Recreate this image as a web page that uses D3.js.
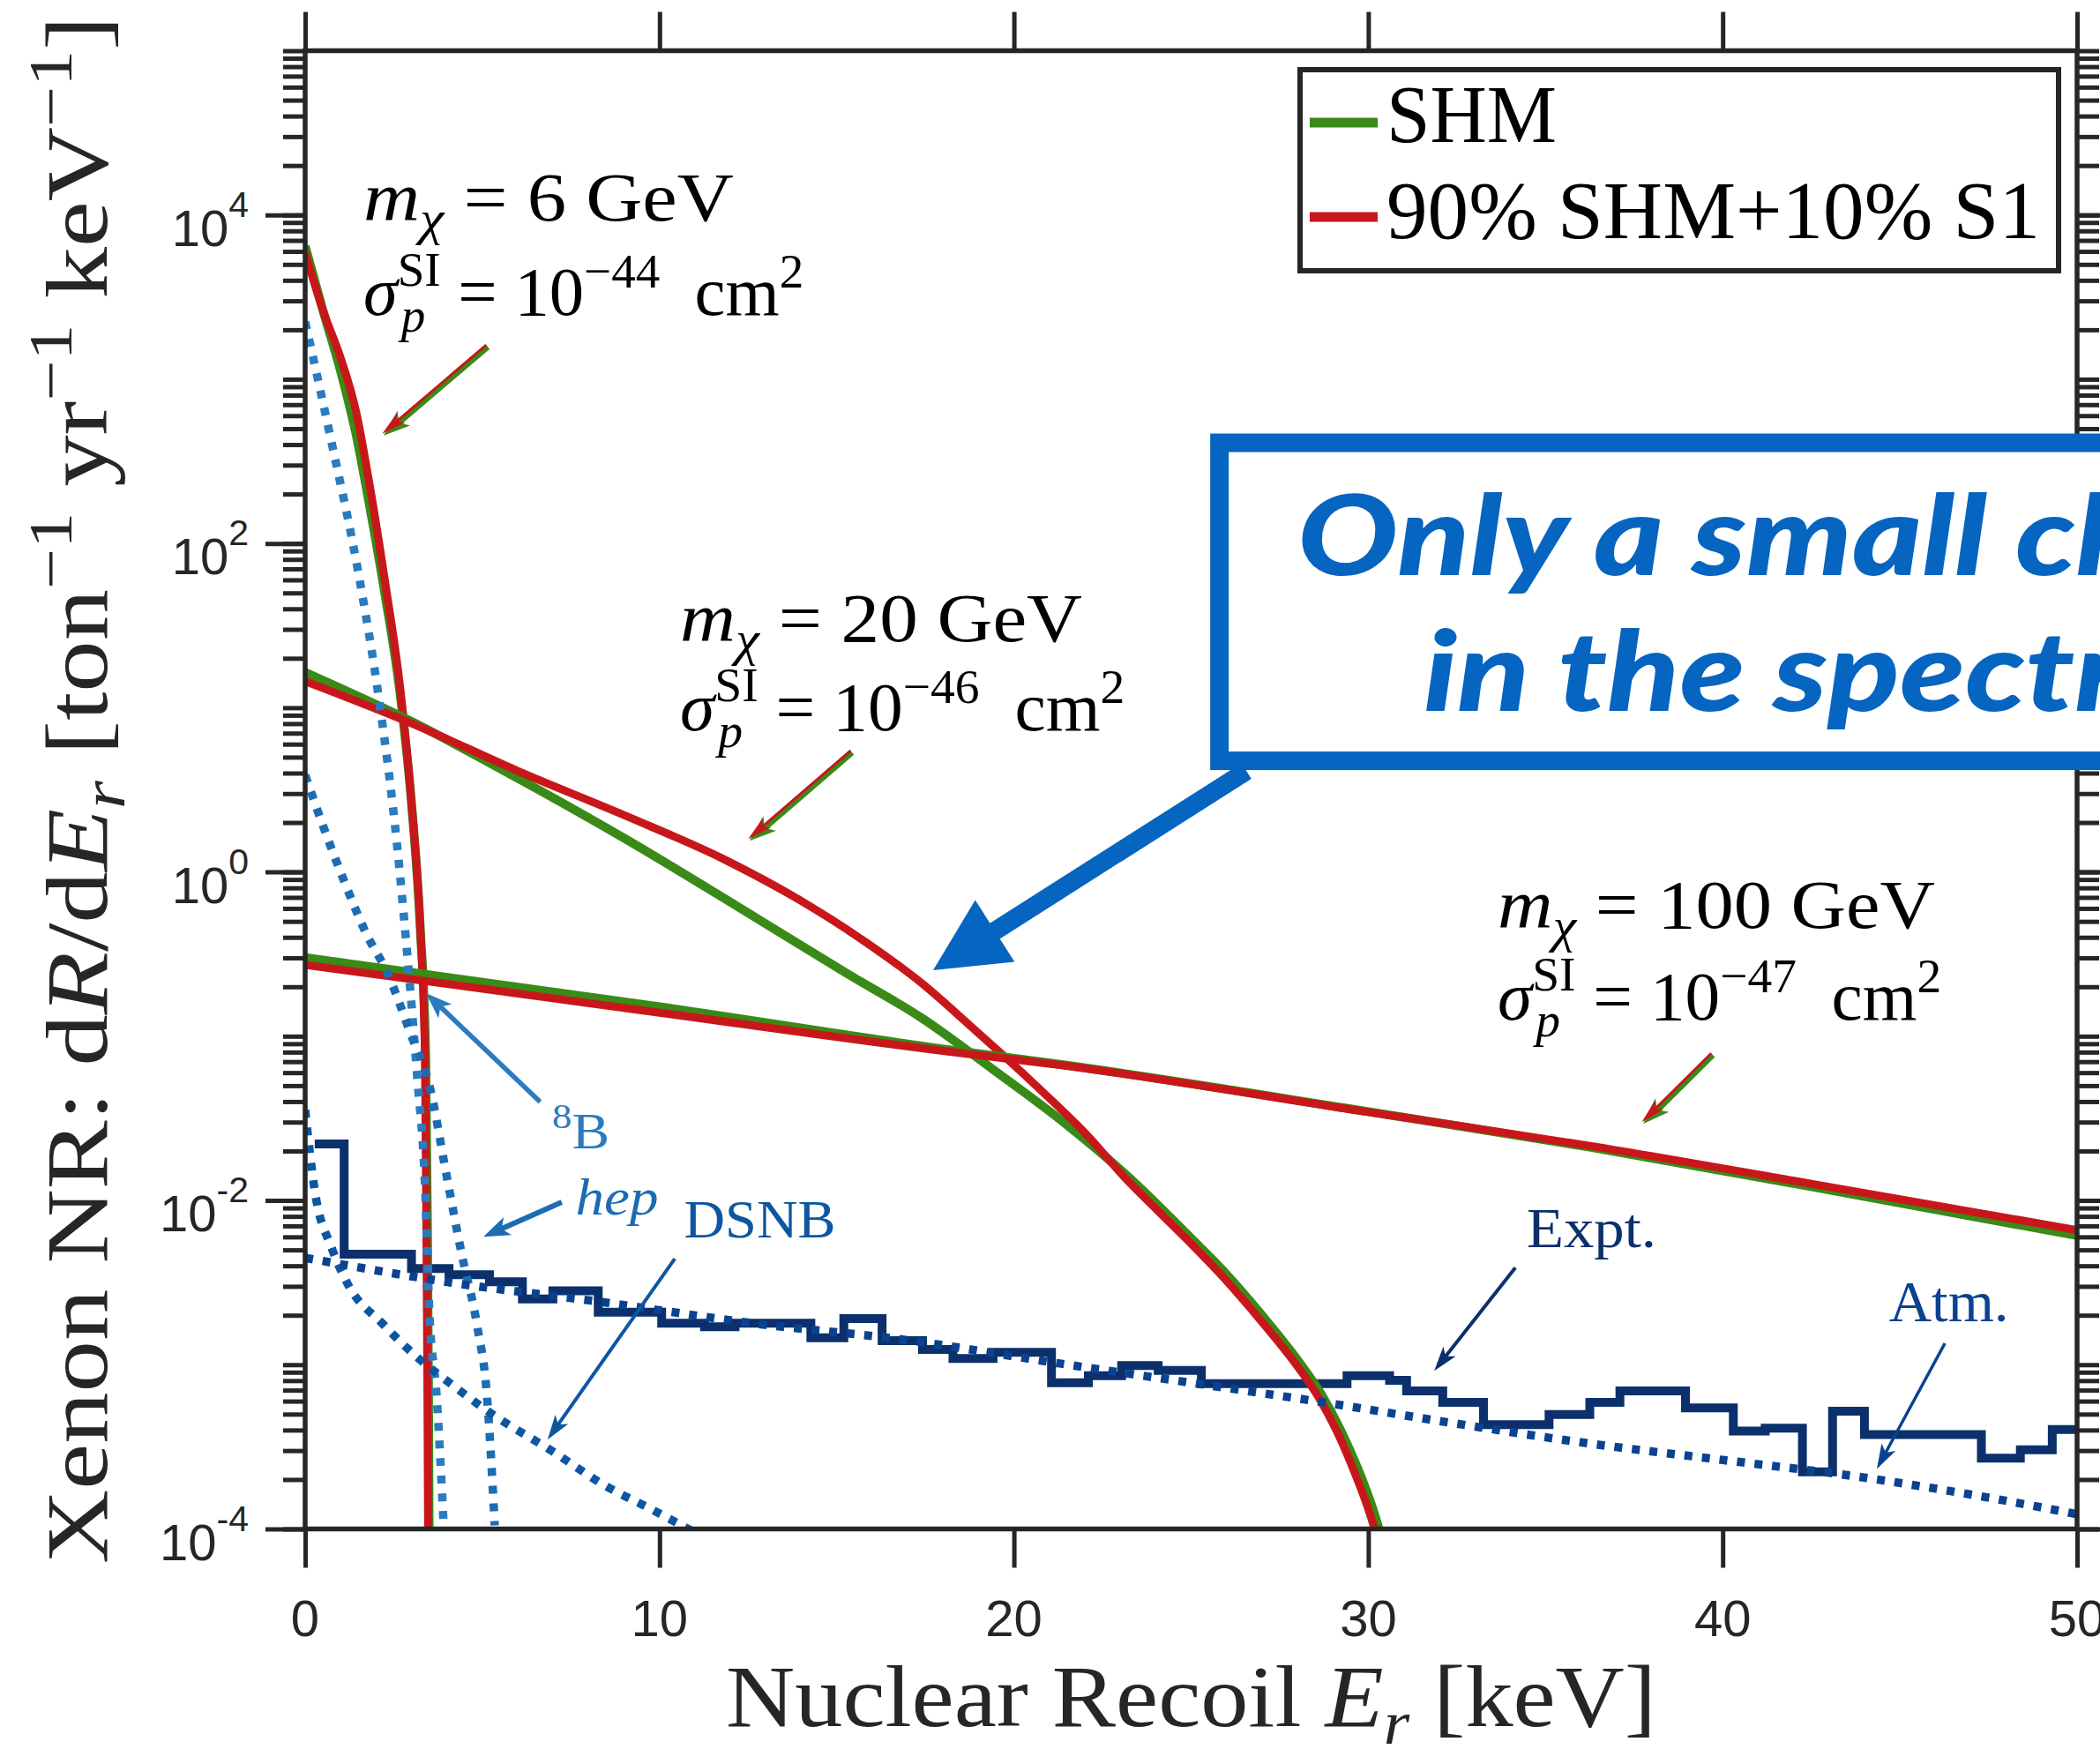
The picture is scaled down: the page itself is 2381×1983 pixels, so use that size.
<!DOCTYPE html>
<html>
<head>
<meta charset="utf-8">
<script src="https://cdn.jsdelivr.net/npm/d3@7"></script>
<style>
body { margin: 0; background: #fff; }
svg { display: block; }
text { white-space: pre; }
</style>
</head>
<body>
<svg id="chart"></svg>
<script>
var width = 2381, height = 1983;
var plot = {left: 346, right: 2355, top: 57.5, bottom: 1733.5};

// ---------- data ----------
var xTicks = [0, 10, 20, 30, 40, 50];
var yMajor = [1e-4, 1e-2, 1, 1e2, 1e4];

// m = 6 GeV, sigma = 1e-44
var shm6E = [0, 0.5, 1.0, 1.45, 1.8, 2.26, 2.67, 3.0, 3.25, 3.40, 3.45, 3.48, 3.50];
var shm6R = [6460, 2630, 1120, 447, 178, 47.9, 12.6, 2.63, 0.447, 0.0759, 0.00708, 0.000676, 0.0000794];
var mix6E = [0, 0.5, 1.0, 1.45, 1.8, 2.26, 2.67, 3.0, 3.25, 3.38, 3.42, 3.45, 3.47];
var mix6R = [5890, 2630, 1350, 617, 240, 57.5, 13.8, 2.63, 0.447, 0.0759, 0.00708, 0.000676, 0.0000794];

// m = 20 GeV, sigma = 1e-46
var shm20E = [0, 3, 6, 9.1, 12.2, 15.3, 17.4, 19.4, 21.5, 23.2, 25, 26, 27, 28, 28.7, 29.2, 29.7, 30.1, 30.4];
var shm20R = [16.4, 8.24, 3.72, 1.56, 0.617, 0.24, 0.129, 0.063, 0.0288, 0.0141, 0.00589, 0.00355, 0.002, 0.00107,
              0.000646, 0.000407, 0.000234, 0.000138, 0.0000851];
var mix20E = [0, 3, 6, 9.1, 11.8, 13.9, 15.7, 17.4, 18.8, 20.5, 22.1, 23.1, 24, 25, 26, 27, 28, 28.6, 29.1, 29.6, 30.0, 30.25];
var mix20R = [14.5, 8.04, 4.12, 2.17, 1.20, 0.685, 0.389, 0.210, 0.114, 0.053, 0.0245, 0.014, 0.00891, 0.00545, 0.00324,
              0.00182, 0.000977, 0.000631, 0.000398, 0.000224, 0.000132, 0.0000891];

// m = 100 GeV, sigma = 1e-47
var shm100E = [0, 10, 18.4, 21.25, 30, 36.25, 43, 50];
var shm100R = [0.301, 0.151, 0.0813, 0.0676, 0.0347, 0.0211, 0.0116, 0.00611];
var mix100E = [0, 10, 18.4, 21.25, 30, 36.25, 43, 50];
var mix100R = [0.272, 0.139, 0.0794, 0.067, 0.0345, 0.0215, 0.0121, 0.0066];

// neutrino backgrounds
var b8E = [0, 0.68, 1.51, 2.09, 2.59, 2.92, 3.17, 3.38, 3.5, 3.71, 3.92];
var b8R = [2240, 479, 64.6, 11.0, 1.48, 0.251, 0.0537, 0.0126, 0.00219, 0.000646, 0.0000933];
var hepE = [0, 0.47, 1.09, 1.71, 2.33, 2.95, 3.56, 3.95, 4.42, 4.85, 5.13, 5.35];
var hepR = [3.89, 2.0, 0.891, 0.427, 0.240, 0.107, 0.0447, 0.0158, 0.00468, 0.00174, 0.000646, 0.000105];
var dsnbE = [0, 0.27, 0.75, 1.23, 2.18, 3.14, 4.13, 5.2, 7.0, 8.42, 9.85, 11.0];
var dsnbR = [0.0355, 0.0115, 0.00513, 0.00302, 0.00178, 0.00112, 0.000759, 0.000513, 0.000295, 0.000186, 0.000129, 0.000095];
var atmE = [0, 4.13, 8.42, 12.7, 17, 21.25, 25, 28.75, 32.5, 36.25, 40, 43.75, 47, 50];
var atmR = [0.00447, 0.00316, 0.0024, 0.00178, 0.00141, 0.00102, 0.000776, 0.000589, 0.000437, 0.000331, 0.000263, 0.000209, 0.000162, 0.000123];

// experimental spectrum (bin edges, rate per bin)
var exptEdges = [0.27, 1.1, 3.0, 4.06, 5.2, 6.13, 6.99, 8.27, 10.06, 11.27, 12.13, 14.27, 15.2, 16.28, 17.42, 18.28, 19.41, 21.06, 22.1, 23.04,
                 24.07, 25.29, 29.4, 30.6, 31.08, 32.1, 33.25, 35.1, 36.25, 37.1, 38.95, 40.3, 41.2, 42.25, 43.1, 44.0, 47.3, 48.4, 49.3, 50];
var exptRate = [0.0221, 0.00471, 0.00385, 0.00353, 0.0032, 0.00251, 0.00282, 0.00209, 0.00179, 0.0017, 0.00179, 0.00146, 0.00191, 0.0014,
                0.00124, 0.00109, 0.00119, 0.000776, 0.000857, 0.000989, 0.000923, 0.000766, 0.000857, 0.000802, 0.000693, 0.000589,
                0.000432, 0.000498, 0.000589, 0.000693, 0.000546, 0.000394, 0.000411, 0.000223, 0.000521, 0.000375, 0.00027, 0.000303, 0.000403];

var legendNames = ["SHM", "90% SHM+10% S1"];

// ---------- colours ----------
var cGreen = "#3a8a17", cRed = "#c8171b", cAxis = "#262626";
var cB8 = "#2a7bbf", cHep = "#1c6bb3", cDsnb = "#0d56a2", cAtm = "#0b4290", cExpt = "#0b306c", cCall = "#0565c0";
var SERIF = "'Liberation Serif','Times New Roman',serif";
var SANS = "'Liberation Sans',Arial,Helvetica,sans-serif";

var svg = d3.select("#chart")
	.attr("width", width)
	.attr("height", height)
	.style("background", "#fff");

var x = d3.scaleLinear().domain([0, 50]).range([plot.left, plot.right]);
var y = d3.scaleLog().domain([1e-4, 1e5]).range([plot.bottom, plot.top]);

svg.append("defs").append("clipPath").attr("id", "plotclip")
	.append("rect")
	.attr("x", plot.left).attr("y", plot.top)
	.attr("width", plot.right - plot.left).attr("height", plot.bottom - plot.top);

// ---------- axes ----------
var yMinor = [];
for (var n = -4; n <= 4; n++) {
	for (var k = 1; k <= 9; k++) yMinor.push(k * Math.pow(10, n));
}
yMinor.push(1e5);

function styleAxis(g, w) {
	g.select(".domain").remove();
	g.selectAll(".tick line").attr("stroke", cAxis).attr("stroke-width", w);
	g.selectAll(".tick text").remove();
}

svg.append("g").attr("transform", "translate(0," + plot.bottom + ")")
	.call(d3.axisBottom(x).tickValues(xTicks).tickSize(44).tickSizeOuter(0))
	.call(styleAxis, 5);
svg.append("g").attr("transform", "translate(0," + plot.top + ")")
	.call(d3.axisTop(x).tickValues(xTicks).tickSize(44).tickSizeOuter(0))
	.call(styleAxis, 5);
svg.append("g").attr("transform", "translate(" + plot.left + ",0)")
	.call(d3.axisLeft(y).tickValues(yMinor).tickSize(25).tickSizeOuter(0))
	.call(styleAxis, 5);
svg.append("g").attr("transform", "translate(" + plot.left + ",0)")
	.call(d3.axisLeft(y).tickValues(yMajor).tickSize(45).tickSizeOuter(0))
	.call(styleAxis, 5);
svg.append("g").attr("transform", "translate(" + plot.right + ",0)")
	.call(d3.axisRight(y).tickValues(yMinor).tickSize(25).tickSizeOuter(0))
	.call(styleAxis, 5);
svg.append("g").attr("transform", "translate(" + plot.right + ",0)")
	.call(d3.axisRight(y).tickValues(yMajor).tickSize(45).tickSizeOuter(0))
	.call(styleAxis, 5);

// tick labels
svg.append("g").selectAll("text")
	.data(xTicks)
	.enter().append("text")
	.attr("x", function(d) { return x(d); })
	.attr("y", plot.bottom + 121)
	.attr("text-anchor", "middle")
	.attr("font-family", SANS)
	.attr("font-size", 58)
	.attr("fill", cAxis)
	.text(function(d) { return d; });

svg.append("g").selectAll("text")
	.data(yMajor)
	.enter().append("text")
	.attr("x", plot.left - 64)
	.attr("y", function(d) { return y(d) + 35; })
	.attr("text-anchor", "end")
	.attr("font-family", SANS)
	.attr("font-size", 58)
	.attr("fill", cAxis)
	.each(function(d) {
		var t = d3.select(this);
		t.append("tspan").text("10");
		t.append("tspan").attr("dy", -33).attr("font-size", 41)
			.text(String(Math.round(Math.log10(d))));
	});

// ---------- helpers ----------
function rich(t, parts, size) {
	var cur = 0;
	parts.forEach(function(p) {
		var s = p[1] || "";
		var off = s.indexOf("b") >= 0 ? size * 0.2 : (s.indexOf("p") >= 0 ? -size * 0.4 : 0);
		var ts = t.append("tspan").text(p[0]);
		if (s.indexOf("i") >= 0) ts.attr("font-style", "italic");
		if (off !== 0) ts.attr("font-size", size * 0.7);
		if (off !== cur) ts.attr("dy", off - cur);
		cur = off;
	});
}

function fit(t, target) {
	var w = t.node().getComputedTextLength();
	if (w > 0) t.attr("transform", "scale(" + (target / w) + ",1)");
}

function label(px, py, size, color, target, parts, anchor) {
	var g = svg.append("g").attr("transform", "translate(" + px + "," + py + ")");
	var t = g.append("text")
		.attr("font-family", SERIF)
		.attr("font-size", size)
		.attr("fill", color)
		.attr("text-anchor", anchor || "start");
	rich(t, parts, size);
	if (target) fit(t, target);
	return g;
}

function massLabel(E, R1, R2, mass, expo, w1, w2) {
	var size = 78;
	label(x(E), y(R1), size, "#000", w1, [["m", "i"], ["\u03c7", "ib"], [" = " + mass + " GeV", ""]]);
	var g = svg.append("g").attr("transform", "translate(" + x(E) + "," + y(R2) + ")");
	var t = g.append("text").attr("font-family", SERIF).attr("font-size", size).attr("fill", "#000");
	t.append("tspan").attr("font-style", "italic").text("\u03c3");
	var sup = t.append("tspan").attr("font-size", size * 0.7).attr("dy", -size * 0.42).text("SI");
	var wSup = sup.node().getComputedTextLength();
	var sub = t.append("tspan").attr("font-size", size * 0.7).attr("font-style", "italic")
		.attr("dx", -wSup + 4).attr("dy", size * 0.66).text("p");
	var wSub = sub.node().getComputedTextLength();
	t.append("tspan").attr("dx", wSup - wSub - 4).attr("dy", -size * 0.24).text(" = 10");
	t.append("tspan").attr("font-size", size * 0.7).attr("dy", -size * 0.4).text("\u2212" + expo);
	t.append("tspan").attr("dy", size * 0.4).text("  cm");
	t.append("tspan").attr("font-size", size * 0.7).attr("dy", -size * 0.4).text("2");
	fit(t, w2);
}

function arrow(g, x1, y1, x2, y2, color, sw, len, half, notch) {
	var dx = x2 - x1, dy = y2 - y1, L = Math.sqrt(dx * dx + dy * dy);
	var ux = dx / L, uy = dy / L, nx = -uy, ny = ux;
	var bx = x2 - ux * len, by = y2 - uy * len;
	var kx = x2 - ux * len * (1 - notch), ky = y2 - uy * len * (1 - notch);
	g.append("line")
		.attr("x1", x1).attr("y1", y1).attr("x2", kx + ux * 2).attr("y2", ky + uy * 2)
		.attr("stroke", color).attr("stroke-width", sw);
	g.append("path")
		.attr("d", "M" + x2 + "," + y2 + "L" + (bx + nx * half) + "," + (by + ny * half) +
			"L" + kx + "," + ky + "L" + (bx - nx * half) + "," + (by - ny * half) + "Z")
		.attr("fill", color);
}

function pairArrow(E1, R1, E2, R2) {
	var g = svg.append("g");
	var x1 = x(E1), y1 = y(R1), x2 = x(E2), y2 = y(R2);
	var dx = x2 - x1, dy = y2 - y1, L = Math.sqrt(dx * dx + dy * dy);
	var ox = dy / L * 2.5, oy = -dx / L * 2.5;
	arrow(g, x1, y1, x2, y2, cGreen, 7, 30, 11, 0.25);
	arrow(g, x1 - ox, y1 - oy, x2 - ox, y2 - oy, cRed, 3, 28, 7, 0.25);
}

function pts(E, R) {
	return E.map(function(e, i) { return [e, R[i]]; });
}

var line = d3.line()
	.x(function(d) { return x(d[0]); })
	.y(function(d) { return y(d[1]); })
	.curve(d3.curveMonotoneX);

var data = svg.append("g").attr("clip-path", "url(#plotclip)");

// experimental histogram
var exptPts = exptEdges.map(function(e, i) { return [e, exptRate[Math.min(i, exptRate.length - 1)]]; });
data.append("path")
	.attr("d", d3.line().x(function(d) { return x(d[0]); }).y(function(d) { return y(d[1]); }).curve(d3.curveStepAfter)(exptPts))
	.attr("fill", "none").attr("stroke", cExpt).attr("stroke-width", 10);

// signal curves: green (SHM) below red (mixture)
[[shm6E, shm6R, mix6E, mix6R], [shm20E, shm20R, mix20E, mix20R], [shm100E, shm100R, mix100E, mix100R]].forEach(function(s) {
	data.append("path").attr("d", line(pts(s[0], s[1])))
		.attr("fill", "none").attr("stroke", cGreen).attr("stroke-width", 10);
	data.append("path").attr("d", line(pts(s[2], s[3])))
		.attr("fill", "none").attr("stroke", cRed).attr("stroke-width", 9);
});

// neutrino backgrounds (dotted)
[[b8E, b8R, cB8], [hepE, hepR, cHep], [dsnbE, dsnbR, cDsnb], [atmE, atmR, cAtm]].forEach(function(s) {
	data.append("path").attr("d", line(pts(s[0], s[1])))
		.attr("fill", "none").attr("stroke", s[2]).attr("stroke-width", 9.5)
		.attr("stroke-dasharray", "9,11");
});

// frame
svg.append("rect")
	.attr("x", plot.left).attr("y", plot.top)
	.attr("width", plot.right - plot.left).attr("height", plot.bottom - plot.top)
	.attr("fill", "none").attr("stroke", cAxis).attr("stroke-width", 5.5);

// ---------- annotations ----------
massLabel(1.64, 9250, 2470, 6, 44, 420, 527);
massLabel(10.58, 25.4, 7.28, 20, 46, 456, 532);
massLabel(33.65, 0.456, 0.126, 100, 47, 496, 531);

pairArrow(5.15, 1578, 2.215, 455);
pairArrow(15.43, 5.35, 12.54, 1.55);
pairArrow(39.72, 0.0769, 37.76, 0.0293);

label(x(6.97), y(0.0208), 56, cB8, 65, [["8", "p"], ["B", ""]]);
label(x(7.63), y(0.0082), 60, cHep, 94, [["hep", "i"]]);
label(x(10.69), y(0.00592), 62, cDsnb, 172, [["DSNB", ""]]);
label(x(34.47), y(0.00519), 64, cExpt, 147, [["Expt.", ""]]);
label(x(44.69), y(0.00184), 66, cAtm, 136, [["Atm.", ""]]);

var ann = svg.append("g");
arrow(ann, x(6.63), y(0.0399), x(3.41), y(0.183), cB8, 5.5, 30, 11, 0.25);
arrow(ann, x(7.24), y(0.00975), x(5.03), y(0.00601), cHep, 6, 30, 11, 0.25);
arrow(ann, x(10.43), y(0.00442), x(6.84), y(0.00035), cDsnb, 4, 28, 9, 0.25);
arrow(ann, x(34.15), y(0.0039), x(31.86), y(0.000918), cExpt, 4, 28, 9, 0.25);
arrow(ann, x(46.27), y(0.00135), x(44.35), y(0.000232), cAtm, 3.5, 28, 9, 0.25);

// callout box with big arrow
svg.append("rect")
	.attr("x", x(25.80)).attr("y", y(410))
	.attr("width", x(62) - x(25.80)).attr("height", y(4.75) - y(410))
	.attr("fill", "#fff").attr("stroke", cCall).attr("stroke-width", 21);
arrow(svg.append("g"), x(26.56), y(4.12), x(17.72), y(0.252), cCall, 21, 83, 41.5, 0);

var c1 = svg.append("g").attr("transform", "translate(" + x(28.0) + "," + y(64.1) + ")")
	.append("text")
	.attr("font-family", "Lato, 'Open Sans', sans-serif")
	.attr("font-weight", 900).attr("font-style", "italic")
	.attr("font-size", 126).attr("fill", cCall);
var c1a = c1.append("tspan").text("Only a small");
c1.append("tspan").text(" change");
var callScale = 782 / c1a.node().getComputedTextLength();
c1.attr("transform", "scale(" + callScale + ",1)");
svg.append("g").attr("transform", "translate(" + x(31.56) + "," + y(9.55) + ")")
	.append("text")
	.attr("font-family", "Lato, 'Open Sans', sans-serif")
	.attr("font-weight", 900).attr("font-style", "italic")
	.attr("font-size", 126).attr("fill", cCall)
	.attr("transform", "scale(" + callScale + ",1)")
	.text("in the spectrum");

// ---------- legend ----------
var lg = svg.append("g").attr("transform", "translate(" + (plot.right - 881) + "," + (plot.top + 21.5) + ")");
lg.append("rect").attr("width", 860).attr("height", 228)
	.attr("fill", "#fff").attr("stroke", cAxis).attr("stroke-width", 6);
[[cGreen, 60, 82, 193], [cRed, 167, 191, 741]].forEach(function(d, i) {
	lg.append("line").attr("x1", 11).attr("x2", 88).attr("y1", d[1]).attr("y2", d[1])
		.attr("stroke", d[0]).attr("stroke-width", 11);
	label(plot.right - 881 + 98, plot.top + 21.5 + d[2], 94, "#000", d[3], [[legendNames[i], ""]]);
});

// ---------- axis titles ----------
label((plot.left + plot.right) / 2, 1957, 100, cAxis, 1055,
	[["Nuclear Recoil ", ""], ["E", "i"], ["r", "ib"], [" [keV]", ""]], "middle");

var yl = svg.append("g").attr("transform", "translate(121," + ((plot.top + plot.bottom) / 2) + ") rotate(-90)");
var ylt = yl.append("text")
	.attr("font-family", SERIF).attr("font-size", 100).attr("fill", cAxis)
	.attr("text-anchor", "middle");
rich(ylt, [["Xenon NR: d", ""], ["R", "i"], ["/d", ""], ["E", "i"], ["r", "ib"], [" [ton", ""], ["\u22121", "p"],
	[" yr", ""], ["\u22121", "p"], [" keV", ""], ["\u22121", "p"], ["]", ""]], 100);
fit(ylt, 1755);
</script>
</body>
</html>
